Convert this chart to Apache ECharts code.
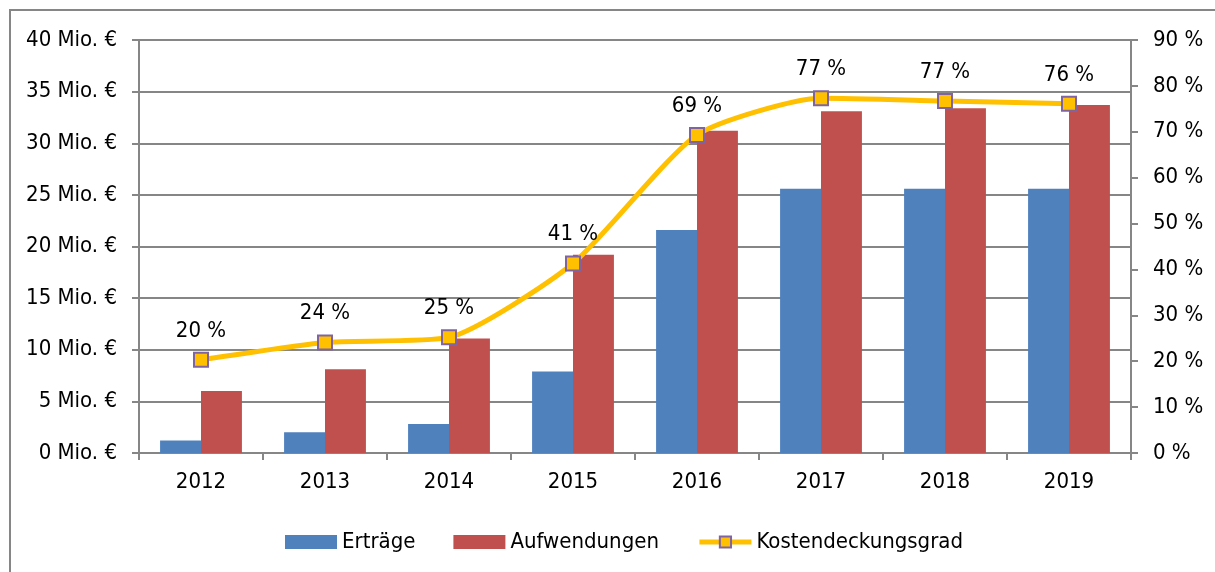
<!DOCTYPE html>
<html>
<head>
<meta charset="utf-8">
<script src="https://cdn.jsdelivr.net/npm/echarts@6/dist/echarts.min.js"></script>
<style>
html,body{margin:0;padding:0;background:#fff;}
#chart{width:1215px;height:572px;}
</style>
</head>
<body>
<div id="chart"></div>
<script>
const categories = ['2012','2013','2014','2015','2016','2017','2018','2019'];
const ertraege = [1.2, 2.0, 2.8, 7.9, 21.6, 25.6, 25.6, 25.6];
const aufwendungen = [6.0, 8.1, 11.1, 19.2, 31.2, 33.1, 33.4, 33.7];
const kostendeckungsgrad = [20.3, 24.1, 25.2, 41.3, 69.3, 77.3, 76.7, 76.1];
const seriesNames = ['Erträge', 'Aufwendungen', 'Kostendeckungsgrad'];

const FONT = '"Liberation Sans Narrow", "DejaVu Sans Condensed", "Liberation Sans", sans-serif';
const GREY = '#868686';
const FS = 22;

const chart = echarts.init(document.getElementById('chart'), null, {renderer: 'canvas'});
chart.setOption({
  animation: false,
  textStyle: {fontFamily: FONT},
  graphic: [{
    type: 'rect',
    shape: {x: 10, y: 10, width: 1230, height: 600},
    style: {fill: 'none', stroke: GREY, lineWidth: 2},
    silent: true
  }],
  grid: {left: 139, right: 84, top: 40, bottom: 119, containLabel: false},
  legend: {
    top: 526,
    left: 280,
    itemGap: 38,
    itemWidth: 52,
    itemHeight: 14,
    textStyle: {fontFamily: FONT, fontSize: FS, color: '#000'},
    data: [
      {name: seriesNames[0], icon: 'rect'},
      {name: seriesNames[1], icon: 'rect'},
      {name: seriesNames[2], lineStyle: {width: 5, color: '#FFC000'}}
    ]
  },
  xAxis: {
    type: 'category',
    data: categories,
    axisLine: {lineStyle: {color: GREY, width: 2}},
    axisTick: {show: true, length: 7, lineStyle: {color: GREY, width: 2}},
    axisLabel: {fontFamily: FONT, fontSize: FS, color: '#000', margin: 18}
  },
  yAxis: [{
    type: 'value',
    min: 0, max: 40, interval: 5,
    axisLine: {show: true, lineStyle: {color: GREY, width: 2}},
    axisTick: {show: true, length: 7, lineStyle: {color: GREY, width: 2}},
    splitLine: {show: true, lineStyle: {color: GREY, width: 2}},
    axisLabel: {fontFamily: FONT, fontSize: FS, color: '#000', margin: 22,
      formatter: v => v + ' Mio. €'}
  }, {
    type: 'value',
    min: 0, max: 90, interval: 10,
    position: 'right',
    axisLine: {show: true, lineStyle: {color: GREY, width: 2}},
    axisTick: {show: true, length: 7, lineStyle: {color: GREY, width: 2}},
    splitLine: {show: false},
    axisLabel: {fontFamily: FONT, fontSize: FS, color: '#000', margin: 22,
      formatter: v => v + ' %'}
  }],
  series: [{
    name: seriesNames[0],
    type: 'bar',
    data: ertraege,
    barGap: '0%',
    barCategoryGap: '34%',
    itemStyle: {color: '#4F81BD'},
    z: 2
  }, {
    name: seriesNames[1],
    type: 'bar',
    data: aufwendungen,
    barGap: '0%',
    barCategoryGap: '34%',
    itemStyle: {color: '#C0504D'},
    z: 2
  }, {
    name: seriesNames[2],
    type: 'line',
    yAxisIndex: 1,
    data: kostendeckungsgrad,
    smooth: 0.2,
    symbol: 'rect',
    symbolSize: 14,
    lineStyle: {color: '#FFC000', width: 5},
    itemStyle: {color: '#FFC000', borderColor: '#8064A2', borderWidth: 2},
    label: {
      show: true, position: 'top', distance: 10,
      fontFamily: FONT, fontSize: FS, color: '#000',
      formatter: p => Math.round(p.value) + ' %'
    },
    z: 5
  }]
});
</script>
</body>
</html>
